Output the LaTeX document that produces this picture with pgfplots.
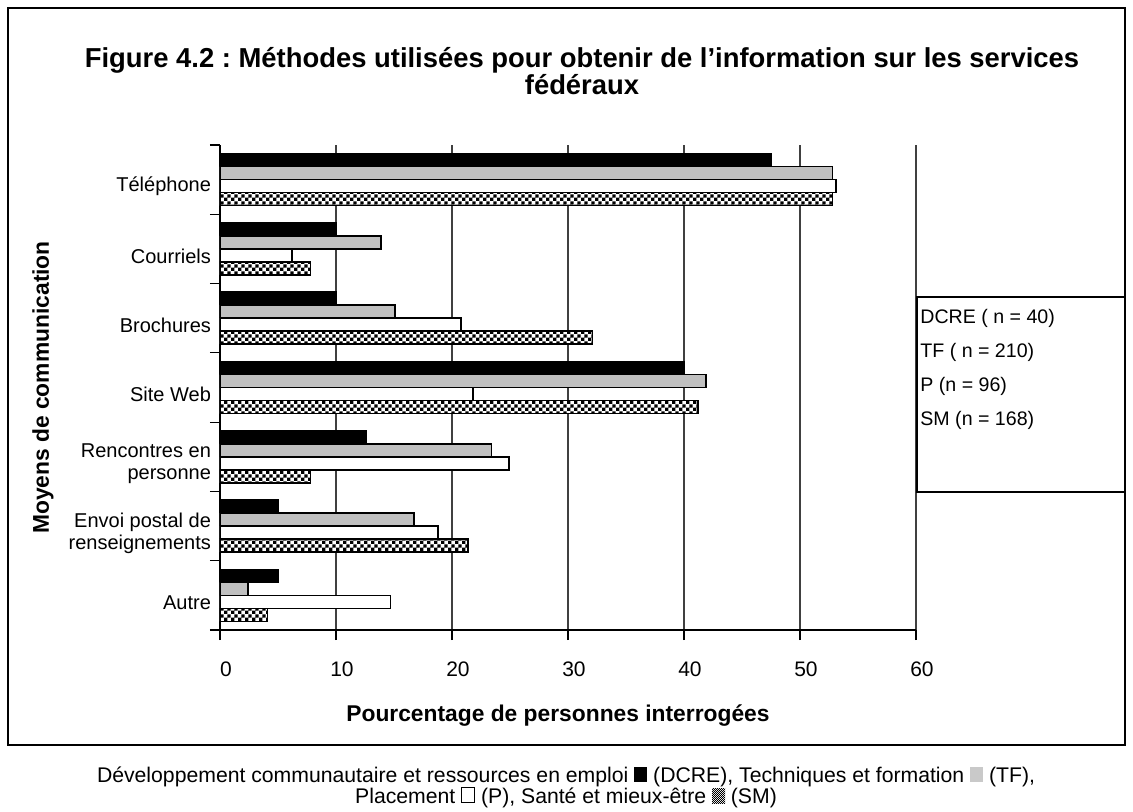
\documentclass[border=0pt]{standalone}
\usepackage{fontspec}
\setmainfont{Liberation Sans}
\usepackage{pgfplots}
\pgfplotsset{compat=1.18}
\usepackage{pgfplotstable}
\usetikzlibrary{patterns}
\frenchspacing

% small black/white checkerboard used for the SM bars
\pgfdeclarepatternformonly{fine checker}{\pgfpointorigin}{\pgfqpoint{3.4pt}{3.4pt}}{\pgfqpoint{3.4pt}{3.4pt}}{%
  \pgfpathrectangle{\pgfpointorigin}{\pgfqpoint{1.7pt}{1.7pt}}%
  \pgfpathrectangle{\pgfqpoint{1.7pt}{1.7pt}}{\pgfqpoint{1.7pt}{1.7pt}}%
  \pgfusepath{fill}}
\pgfdeclarepatternformonly{tiny checker}{\pgfpointorigin}{\pgfqpoint{1.2pt}{1.2pt}}{\pgfqpoint{1.2pt}{1.2pt}}{%
  \pgfpathrectangle{\pgfpointorigin}{\pgfqpoint{0.6pt}{0.6pt}}%
  \pgfpathrectangle{\pgfqpoint{0.6pt}{0.6pt}}{\pgfqpoint{0.6pt}{0.6pt}}%
  \pgfusepath{fill}}

\definecolor{tfgray}{RGB}{192,192,192}

% pos: 6 = Téléphone (top) ... 0 = Autre (bottom)
\pgfplotstableread{
pos DCRE TF P SM
6 47.5 52.8 53.1 52.8
5 10.0 13.9 6.2 7.8
4 10.0 15.1 20.8 32.1
3 40.0 41.9 21.8 41.2
2 12.6 23.4 24.9 7.8
1 5.0 16.7 18.8 21.4
0 5.0 2.4 14.7 4.1
}\methodes

\begin{document}
\begin{tikzpicture}
\useasboundingbox (-110pt,-90.5pt) rectangle (456.5pt,315pt);
\draw[line width=0.6pt] (-106pt,-57.5pt) rectangle (452.5pt,311pt);

\begin{axis}[
  width=348pt, height=242.5pt, scale only axis,
  xbar, bar width=6.5pt,
  xmin=0, xmax=60, ymin=-0.5, ymax=6.5,
  axis x line*=bottom, axis y line*=left,
  axis line style={line width=0.8pt},
  xtick={0,10,...,60},
  xmajorgrids, major grid style={black!75, line width=0.6pt},
  ytick={-0.5,0.5,...,6.5}, yticklabels={},
  extra y ticks={0,...,6},
  extra y tick labels={Autre, {Envoi postal de\\renseignements}, {Rencontres en\\personne}, Site Web, Brochures, Courriels, Téléphone},
  extra y tick style={major tick length=0pt,
    yticklabel style={align=right, anchor=east, xshift=-1pt, yshift=-3.5pt,
      font=\fontsize{10}{10.8}\selectfont}},
  tick align=outside, major tick length=5pt,
  tick style={black, line width=0.6pt},
  tick label style={font=\fontsize{10.5}{12}\selectfont},
  /pgf/number format/assume math mode=true,
  xticklabel style={anchor=center, yshift=-14.5pt, xshift=3pt},
  xlabel={Pourcentage de personnes interrogées},
  ylabel={Moyens de communication},
  label style={font=\fontsize{11.4}{13}\selectfont\bfseries},
  xlabel style={at={(axis description cs:0.4856,-0.177)}, anchor=center},
  ylabel style={at={(axis description cs:-0.2543,0.5)}, anchor=center},
  legend image code/.code={},
  legend cell align=left,
  legend style={draw=none, fill=none, at={(rel axis cs:1,0.67)}, anchor=north west,
    font=\fontsize{9.8}{11}\selectfont, row sep=4.3pt, inner sep=0pt},
]
\addplot[fill=black, draw=black, line width=0.8pt, bar shift=9.75pt] table[x=DCRE, y=pos] {\methodes};
\addplot[fill=tfgray, draw=black, line width=0.8pt, bar shift=3.25pt] table[x=TF, y=pos] {\methodes};
\addplot[fill=white, draw=black, line width=0.8pt, bar shift=-3.25pt] table[x=P, y=pos] {\methodes};
\addplot[fill=white, draw=black, line width=0.8pt, bar shift=-9.75pt, postaction={pattern=fine checker}] table[x=SM, y=pos] {\methodes};
\legend{DCRE ( n = 40), TF ( n = 210), P (n = 96), SM (n = 168)}
\end{axis}

% legend frame
\draw[line width=1pt] (348.5pt,69pt) rectangle (452.5pt,166.5pt);

\node[align=center, font=\fontsize{13.7}{13.5}\selectfont\bfseries] at (181pt,279.25pt)
  {Figure 4.2 : Méthodes utilisées pour obtenir de l’information sur les services\\fédéraux};

\node[align=center, font=\fontsize{10.6}{10.6}\selectfont] at (173pt,-78.5pt)
  {Développement communautaire et ressources en emploi \tikz\fill[black] (0,0) rectangle (6.5pt,7.5pt); (DCRE), Techniques et formation \tikz\fill[tfgray!85!white] (0,0) rectangle (6.5pt,7.5pt); (TF),\\
   Placement \tikz\draw[line width=0.5pt] (0,0) rectangle (6.5pt,7.5pt); (P), Santé et mieux-être \tikz\fill[pattern=tiny checker] (0,0) rectangle (6.5pt,7.5pt); (SM)};
\end{tikzpicture}
\end{document}
